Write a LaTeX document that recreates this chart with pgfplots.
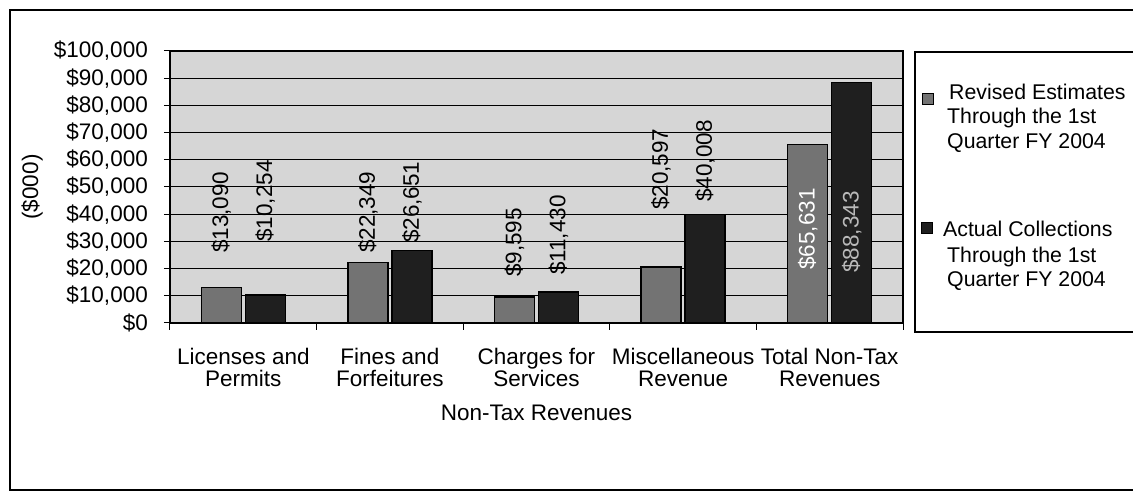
\documentclass[border=0pt]{standalone}
\usepackage{pgfplots}
\pgfplotsset{compat=1.18}
\usepackage{fontspec}
\setmainfont{Liberation Sans}
\definecolor{bgc}{rgb}{0.84,0.84,0.84}
\definecolor{revc}{rgb}{0.45,0.45,0.45}
\definecolor{actc}{rgb}{0.12,0.12,0.12}
\newcommand{\cf}{\fontsize{22.5}{22}\selectfont}
\newcommand{\lf}{\fontsize{21.3}{22}\selectfont}
\begin{document}
\begin{tikzpicture}[x=1pt,y=1pt]
\useasboundingbox (0,0) rectangle (1133,492);
% outer frame
\draw[line width=1.2pt] (1133,482) -- (10,482) -- (10,2) -- (1133,2);
% legend frame
\draw[line width=1.2pt] (1133,440) -- (915,440) -- (915,160) -- (1133,160);
\begin{axis}[
  at={(170pt,169pt)}, anchor=south west,
  scale only axis, width=733pt, height=272pt,
  xmin=-0.5, xmax=4.5, ymin=0, ymax=100000,
  scaled y ticks=false,
  axis background/.style={fill=bgc},
  axis line style={line width=1.1pt},
  ymajorgrids, grid style={black, line width=1pt},
  tick align=outside,
  xtick pos=bottom, ytick pos=left,
  ytick={0,10000,...,100000},
  yticklabels={{\$0},{\$10,000},{\$20,000},{\$30,000},{\$40,000},{\$50,000},{\$60,000},{\$70,000},{\$80,000},{\$90,000},{\$100,000}},
  yticklabel style={font=\cf, inner sep=0pt, xshift=-16pt, anchor=east},
  major tick length=6pt, minor tick length=7pt,
  tick style={black, line width=1pt},
  xtick={0,1,2,3,4},
  major x tick style={draw=none},
  minor xtick={-0.5,0.5,1.5,2.5,3.5,4.5},
  xticklabels={{Licenses and\\Permits},{Fines and\\Forfeitures},{Charges for\\Services},{Miscellaneous\\Revenue},{Total Non-Tax\\Revenues}},
  xticklabel style={font=\cf, align=center, inner sep=0pt, yshift=-19pt, anchor=north},
  xlabel={Non-Tax Revenues},
  every axis x label/.style={at={(axis description cs:0.5,-0.331)}, anchor=center, font=\cf},
  ylabel={(\$000)},
  every axis y label/.style={at={(axis description cs:-0.188,0.5)}, rotate=90, anchor=center, font=\cf},
  clip=false,
]
\addplot[ybar, bar width=40pt, bar shift=-22pt, fill=revc, draw=black, line width=1.3pt]
  coordinates {(0,13090) (1,22349) (2,9595) (3,20597) (4,65631)};
\addplot[ybar, bar width=40pt, bar shift=22pt, fill=actc, draw=black, line width=1.3pt]
  coordinates {(0,10254) (1,26651) (2,11430) (3,40008) (4,88343)};
% value labels
\addplot[draw=none, mark=none, nodes near coords, point meta=explicit symbolic,
  nodes near coords style={rotate=90, anchor=west, font=\cf, inner sep=0pt, text=black}]
  coordinates {(-0.15,25700) [\$13,090] (0.15,29800) [\$10,254]
               (0.85,25700) [\$22,349] (1.15,29400) [\$26,651]
               (1.85,16900) [\$9,595] (2.15,17600) [\$11,430]
               (2.85,41500) [\$20,597] (3.15,44500) [\$40,008]};
\addplot[draw=none, mark=none, nodes near coords, point meta=explicit symbolic,
  nodes near coords style={rotate=90, anchor=west, font=\cf, inner sep=0pt, text=white}]
  coordinates {(3.85,19500) [\$65,631]};
\addplot[draw=none, mark=none, nodes near coords, point meta=explicit symbolic,
  nodes near coords style={rotate=90, anchor=west, font=\cf, inner sep=0pt, text=gray!55}]
  coordinates {(4.15,18400) [\$88,343]};
\end{axis}
% legend
\draw[fill=revc, line width=1pt] (922.5,387.5) rectangle (933.5,398.5);
\node[font=\lf, anchor=base west, inner sep=0pt] at (949,392) {Revised Estimates};
\node[font=\lf, anchor=base west, inner sep=0pt] at (947,368) {Through the 1st};
\node[font=\lf, anchor=base west, inner sep=0pt] at (947,343) {Quarter FY 2004};
\draw[fill=actc, line width=1pt] (921.5,258.5) rectangle (932.5,269.5);
\node[font=\lf, anchor=base west, inner sep=0pt] at (943,255) {Actual Collections};
\node[font=\lf, anchor=base west, inner sep=0pt] at (947,229) {Through the 1st};
\node[font=\lf, anchor=base west, inner sep=0pt] at (947,205) {Quarter FY 2004};
\end{tikzpicture}
\end{document}
